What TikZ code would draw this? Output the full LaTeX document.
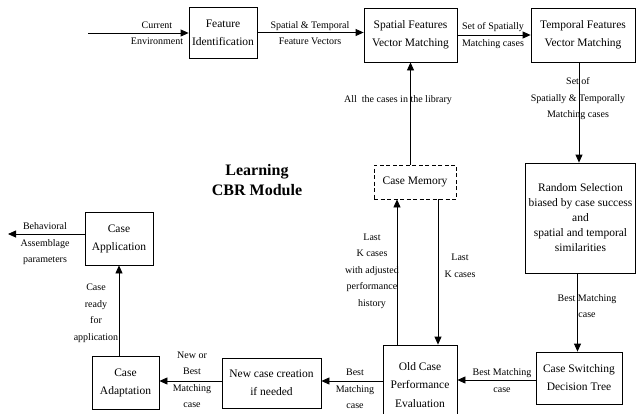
\documentclass[tikz,border=0pt]{standalone}
\usepackage{fontspec}
\setmainfont{Liberation Serif}
\usetikzlibrary{arrows.meta,calc}
\begin{document}
\begin{tikzpicture}[x=1pt,y=-1pt,
 box/.style={draw, line width=0.8pt, align=center, inner sep=0pt, font=\fontsize{11.5}{18}\selectfont},
 lbl/.style={align=center, inner sep=0pt, font=\fontsize{10}{16.5}\selectfont},
 arr/.style={line width=0.8pt, -{Triangle[length=8pt,width=7pt]}}]
\useasboundingbox (0,0) rectangle (637,413);
% boxes
\node[box, minimum width=68pt, minimum height=51pt] (fi) at (223,32.5) {Feature\\Identification};
\node[box, minimum width=93pt, minimum height=54pt] (sfm) at (410.5,35) {Spatial Features\\Vector Matching};
\node[box, minimum width=104pt, minimum height=54pt] (tfm) at (583,35) {Temporal Features\\Vector Matching};
\node[box, minimum width=110pt, minimum height=110pt, font=\fontsize{11.5}{15}\selectfont] (rs) at (580.5,218) {Random Selection\\biased by case success\\and\\spatial and temporal\\similarities};
\node[box, minimum width=86pt, minimum height=52pt] (cs) at (579,378) {Case Switching\\Decision Tree};
\node[box, minimum width=74pt, minimum height=70pt] (oc) at (420,380) {};
\node[align=center, inner sep=0pt, font=\fontsize{11.5}{18.5}\selectfont] (octext) at (420,385) {Old Case\\Performance\\Evaluation};
\node[box, minimum width=99pt, minimum height=50pt] (nc) at (271.5,383) {New case creation\\if needed};
\node[box, minimum width=67pt, minimum height=53pt] (ca) at (125.5,382.5) {Case\\Adaptation};
\node[box, minimum width=68pt, minimum height=53pt] (capp) at (119,238.5) {Case\\Application};
\node[box, dash pattern=on 4pt off 2.5pt, minimum width=82pt, minimum height=34pt] (cm) at (415,182) {Case Memory};
\node[align=center, inner sep=0pt, font=\bfseries\fontsize{16}{20}\selectfont] (title) at (257,180) {Learning\\CBR Module};
% free ends
\coordinate (in) at (88,33);
\coordinate (out) at (8,234);
% connectors
\draw[arr] (in) -- (in -| fi.west);
\draw[arr] (fi.east) -- (fi.east -| sfm.west);
\draw[arr] (sfm.east) -- (sfm.east -| tfm.west);
\draw[arr] ([xshift=-4pt]tfm.south) -- ([xshift=-4pt]tfm.south |- rs.north);
\draw[arr] ([xshift=-3pt]rs.south) -- ([xshift=-3pt]rs.south |- cs.north);
\draw[arr] ([yshift=-2pt]cs.west) -- ([yshift=-2pt]cs.west -| oc.east);
\draw[arr] ([yshift=-1pt]oc.west) -- ([yshift=-1pt]oc.west -| nc.east);
\draw[arr] ([yshift=2pt]nc.west) -- ([yshift=2pt]nc.west -| ca.east);
\draw[arr] (capp.south |- ca.north) -- (capp.south);
\draw[arr] (out -| capp.west) -- (out);
\draw[arr] (sfm.south |- cm.north) -- (sfm.south);
\draw[arr] ([xshift=-23pt]oc.north) -- ([xshift=-23pt]oc.north |- cm.south);
\draw[arr] ([xshift=18pt]oc.north |- cm.south) -- ([xshift=18pt]oc.north);
% labels
\node[lbl] (l1) at (157,33) {Current\\Environment};
\node[lbl] (l2) at (310,33) {Spatial \& Temporal\\Feature Vectors};
\node[lbl] (l3) at (493,35.5) {Set of Spatially\\Matching cases};
\node[lbl] (l4) at (578,99) {Set of\\Spatially \& Temporally\\Matching cases};
\node[lbl] (l5) at (398,100) {All\ \ the cases in the library};
\node[lbl] (l6) at (372,271) {Last\\K cases\\with adjusted\\performance\\history};
\node[lbl] (l7) at (460,266) {Last\\K cases};
\node[lbl] (l8) at (587,306) {Best Matching\\case};
\node[lbl] (l9) at (502,380.5) {Best Matching\\case};
\node[lbl] (l10) at (355,389) {Best\\Matching\\case};
\node[lbl] (l11) at (192,380) {New or\\Best\\Matching\\case};
\node[lbl] (l12) at (96,313) {Case\\ready\\for\\application};
\node[lbl] (l13) at (45,244) {Behavioral\\Assemblage\\parameters};
\end{tikzpicture}
\end{document}
